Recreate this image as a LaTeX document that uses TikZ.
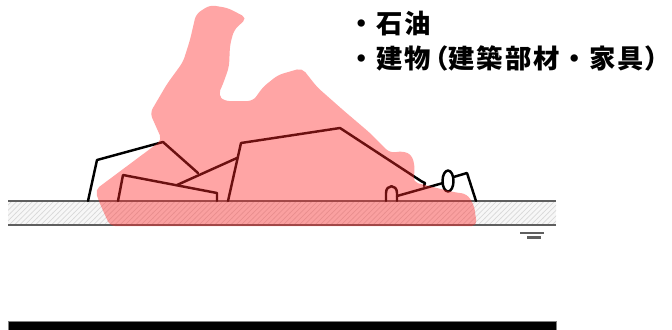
\documentclass[tikz,border=0pt]{standalone}
\usepackage{fontspec}
\newfontfamily\cjk{Noto Sans CJK JP}[LetterSpace=7]
\newfontfamily\cjkhalf{Noto Sans CJK JP}[LetterSpace=7, RawFeature=+halt]
\usepackage{tikz}
\usetikzlibrary{patterns}
\usepackage{xcolor}
\definecolor{fireRed}{RGB}{255, 40, 40}
\definecolor{groundLine}{RGB}{95, 95, 95}

\begin{document}
\begin{tikzpicture}[
  x=0.02cm, y=-0.02cm,
  every node/.style={inner sep=0pt, anchor=base west, font=\cjk\bfseries\fontsize{15}{18}\selectfont},
  ground/.style={line width=1.4pt, groundLine},
  debris/.style={line width=1.4pt, line join=round, line cap=round},
  fire/.style={fill=fireRed, fill opacity=0.42, rounded corners=3pt}
]
  \useasboundingbox (0,0) rectangle (672,329);

  % soil layer between the two ground lines
  \fill[gray!6] (8,201) rectangle (556,225);
  \fill[pattern=north east lines, pattern color=gray!30] (8,201) rectangle (556,225);
  \draw[ground] (8,201) -- (556,201);
  \draw[ground] (8,225) -- (556,225);

  % water table mark
  \draw[groundLine, line width=0.6pt] (520,233) -- (544,233);
  \draw[groundLine, line width=1.6pt] (527,237.5) -- (541,237.5);

  % collapsed building
  \draw[debris] (88,201) -- (97,160) -- (163,142) -- (198,173);
  \draw[debris] (118,201) -- (123,175) -- (217,193) -- (217,201);
  \draw[debris] (177,185) -- (237,158);
  \draw[debris] (228,201) -- (241,143) -- (340,128) -- (421,181) -- (425,183) -- (424,186);
  % furniture on the floor
  \draw[debris] (386,201) -- (386,193) .. controls (386,184) and (397,184) .. (397,193) -- (397,201);
  \draw[debris] (397,196) -- (443,183);
  \draw[debris] (448,181) ellipse [x radius=5.5, y radius=10.5];
  \draw[debris] (453.5,177) -- (467,173) -- (476,201);

  % fire
  \fill[fire] (110,226) -- (100,204) -- (95,190) -- (162,140) -- (150,113)
    -- (167,84) -- (183,62) -- (190,40) -- (196,14) -- (210,5) -- (228,8)
    -- (247,18) -- (234,30) -- (230,45) -- (229,67) -- (223,84) -- (218,95)
    -- (224,101) -- (253,101) -- (263,87) -- (278,75) -- (302,68) -- (317,87)
    -- (343,110) -- (370,133) -- (390,153) -- (403,151) -- (412,155)
    -- (415,168) -- (413,182) -- (437,188) -- (453,192) -- (467,194)
    -- (474,205) -- (477,226) -- cycle;

  % bottom bar
  \draw[gray, fill=black] (8,321) rectangle (556,331);

  % fuel list
  \node (oil) at (348,33) {・石油};
  \node (building) at (348,68) {・建物\kern2.5pt{\cjkhalf（}建築部材・家具{\cjkhalf）}};
\end{tikzpicture}
\end{document}
